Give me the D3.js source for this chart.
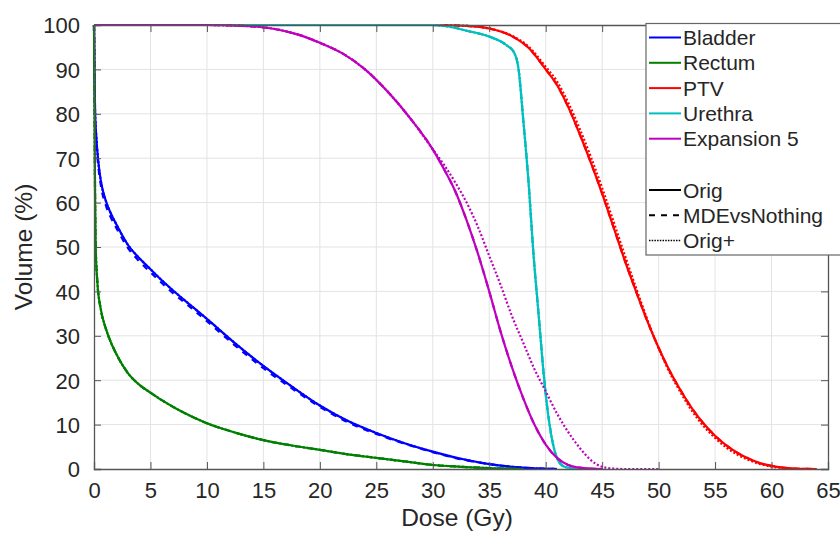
<!DOCTYPE html>
<html>
<head>
<meta charset="utf-8">
<script src="https://cdn.jsdelivr.net/npm/d3@7"></script>
<style>
  body { margin: 0; background: white; }
  svg { display: block; font-family: "Liberation Sans", Arial, sans-serif; }
</style>
</head>
<body>
<svg id="dvh"></svg>
<script>
// DVH curves, [dose (Gy), volume (%)]
var bladderOrig = [[0,100],[0.04,90],[0.1,80],[0.2,75],[0.35,70],[0.6,65],[1.1,60],[1.5,57.5],[2,55],[3,50.5],[4,47.5],[5,45],[6,42.5],[7,40.2],[8.5,37],[10,33.8],[12.5,28.3],[15,23.2],[17.5,18.6],[20,14.3],[22.5,10.8],[25,8.1],[27.5,5.8],[30,3.9],[32.5,2.3],[35,1.1],[37,0.5],[39,0.15],[41,0]];
var bladderMde  = [[0,100],[0.04,89],[0.1,79],[0.2,74],[0.35,69],[0.6,64],[1.1,59],[1.5,56.6],[2,54.2],[3,49.8],[4,46.8],[5,44.3],[6,41.9],[7,39.6],[8.5,36.5],[10,33.3],[12.5,27.8],[15,22.7],[17.5,18.2],[20,14],[22.5,10.5],[25,7.9],[27.5,5.7],[30,3.8],[32.5,2.2],[35,1.1],[37,0.5],[39,0.15],[41,0]];
var rectumOrig  = [[0,100],[0.03,90],[0.06,75],[0.1,60],[0.15,50],[0.3,42],[0.6,36],[1,32],[1.5,28.5],[2,25.8],[2.5,23.5],[3,21.6],[4,19],[5,17.2],[6,15.5],[7.5,13.3],[10,10.3],[12.5,8.2],[15,6.5],[17.5,5.3],[20,4.3],[22.5,3.3],[25,2.5],[27.5,1.7],[30,0.9],[32.5,0.5],[35,0.2],[38,0]];
var ptvOrig     = [[0,100],[30,100],[33,99.8],[35,99.2],[37,97.5],[38.5,94.8],[40,90],[41,86.5],[42,81.5],[43,75.5],[44,69],[45,62],[46,54.5],[47,47],[48,40],[49,33.3],[50,27.3],[51,22],[52,17.5],[53,13.5],[54,10.2],[55,7.5],[56,5.3],[57,3.6],[58,2.3],[59,1.3],[60,0.7],[61,0.3],[62,0.1],[64,0]];
var ptvPlus     = [[0,100],[30,100],[33,99.8],[35,99.2],[37,97.6],[38.5,95.1],[40,90.6],[41,87.3],[42,82.5],[43,76.7],[44,70.3],[45,63.3],[46,55.8],[47,48.2],[48,40.8],[49,33.7],[50,27.2],[51,21.6],[52,17],[53,12.9],[54,9.6],[55,7],[56,4.8],[57,3.2],[58,2],[59,1.1],[60,0.5],[61,0.2],[62,0.05],[64,0]];
var urethraOrig = [[0,100],[30,100],[31.5,99.6],[33,98.7],[35,97.4],[36.5,95.5],[37.2,93.8],[37.6,90],[38,79],[38.5,64],[38.9,49],[39.4,34],[39.8,22],[40.2,12.6],[40.7,5],[41.2,1.5],[41.8,0.4],[43,0]];
var expOrig     = [[0,100],[10,100],[12,99.9],[14,99.7],[16,99.1],[18,97.9],[20,96],[22,93.6],[24,90],[26,85],[28,79],[30,72],[31,67.5],[32,62.5],[33,56],[34,48.5],[35,40],[36,31],[37,23],[38,16],[39,10],[40,5.5],[41,2.5],[42,0.9],[43,0.3],[44,0.1],[45,0]];
var expPlus     = [[0,100],[10,100],[12,99.9],[14,99.7],[16,99.1],[18,97.9],[20,96],[22,93.6],[24,90],[26,85],[28,79],[30,72],[31,68.5],[32,64.5],[33,60],[34,54.5],[35,48],[36,41.5],[37,34.5],[38,28.5],[39,22.5],[40,17.5],[41,12.5],[42,8.3],[43,4.8],[44,2],[45,0.5],[46,0.1],[47,0],[50,0]];

var structNames  = ["Bladder","Rectum","PTV","Urethra","Expansion 5"];
var structColors = ["#0000ff","#008000","#ff0000","#00bfbf","#bf00bf"];
var styleNames   = ["Orig","MDEvsNothing","Orig+"];
var xTicks = d3.range(0, 66, 5);
var yTicks = d3.range(0, 101, 10);

// which curve goes with which structure / line style
var curves = [
  {data: bladderOrig, s: 0, style: 0}, {data: bladderMde, s: 0, style: 1}, {data: bladderOrig, s: 0, style: 2},
  {data: rectumOrig, s: 1, style: 0}, {data: rectumOrig, s: 1, style: 1}, {data: rectumOrig, s: 1, style: 2},
  {data: ptvOrig, s: 2, style: 0}, {data: ptvOrig, s: 2, style: 1}, {data: ptvPlus, s: 2, style: 2},
  {data: urethraOrig, s: 3, style: 0}, {data: urethraOrig, s: 3, style: 1}, {data: urethraOrig, s: 3, style: 2},
  {data: expOrig, s: 4, style: 0}, {data: expOrig, s: 4, style: 1}, {data: expPlus, s: 4, style: 2}
];
var dashes = [null, "6,6", "2,2"];

var screen = {width: 840, height: 534};
var margins = {top: 25, left: 94, right: 12, bottom: 65};
var graph = {width: 828 - 94, height: 469 - 25};
var textColor = "#262626";

var svg = d3.select("svg#dvh")
    .attr("width", screen.width)
    .attr("height", screen.height);

var xScale = d3.scaleLinear().domain([0, 65]).range([0, graph.width]);
var yScale = d3.scaleLinear().domain([0, 100]).range([graph.height, 0]);

var g = svg.append("g")
    .attr("transform", "translate(" + margins.left + "," + margins.top + ")");

// grid
g.append("g").selectAll("line").data(xTicks.slice(1, -1)).enter().append("line")
    .attr("x1", xScale).attr("x2", xScale).attr("y1", 0).attr("y2", graph.height)
    .attr("stroke", "#e3e3e3").attr("stroke-width", 1);
g.append("g").selectAll("line").data(yTicks.slice(1, -1)).enter().append("line")
    .attr("y1", yScale).attr("y2", yScale).attr("x1", 0).attr("x2", graph.width)
    .attr("stroke", "#e3e3e3").attr("stroke-width", 1);

// curves
svg.append("defs").append("clipPath").attr("id", "clip")
    .append("rect").attr("x", -2).attr("y", -2).attr("width", graph.width + 4).attr("height", graph.height + 4);

var lineGenerator = d3.line()
    .x(function(d) { return xScale(d[0]); })
    .y(function(d) { return yScale(d[1]); })
    .curve(d3.curveMonotoneX);

g.append("g").attr("clip-path", "url(#clip)")
    .selectAll("path").data(curves).enter().append("path")
    .attr("d", function(c) { return lineGenerator(c.data); })
    .attr("fill", "none")
    .attr("stroke", function(c) { return structColors[c.s]; })
    .attr("stroke-width", 2.2)
    .attr("stroke-dasharray", function(c) { return dashes[c.style]; });

// axes box with inward ticks
var axisColor = "#555";
var xAxis = d3.axisBottom(xScale).tickValues(xTicks).tickSize(-7).tickPadding(13);
var yAxis = d3.axisLeft(yScale).tickValues(yTicks).tickSize(-7).tickPadding(14);

var xa = g.append("g").attr("transform", "translate(0," + graph.height + ")").call(xAxis);
var ya = g.append("g").call(yAxis);
g.append("g").call(d3.axisTop(xScale).tickValues(xTicks).tickSize(-7).tickFormat(""));
g.append("g").attr("transform", "translate(" + graph.width + ",0)")
    .call(d3.axisRight(yScale).tickValues(yTicks).tickSize(-7).tickFormat(""));

g.selectAll(".domain").attr("stroke", axisColor).attr("stroke-width", 1.3);
g.selectAll(".tick line").attr("stroke", axisColor);
g.selectAll(".tick text").attr("fill", textColor).style("font-size", "22px")
    .style("font-family", "'Liberation Sans', Arial, sans-serif");
xa.selectAll(".tick text").attr("dy", "0.72em");
ya.selectAll(".tick text").attr("dy", "0.36em");

// axis labels
svg.append("text")
    .text("Dose (Gy)")
    .attr("text-anchor", "middle")
    .attr("x", margins.left + graph.width / 2 - 4)
    .attr("y", 526)
    .attr("fill", textColor)
    .style("font-size", "24.5px");

svg.append("g")
    .attr("transform", "translate(32," + (margins.top + graph.height / 2) + ")")
    .append("text")
    .text("Volume (%)")
    .attr("text-anchor", "middle")
    .attr("transform", "rotate(-90)")
    .attr("fill", textColor)
    .style("font-size", "24.5px");

// legend
var legend = svg.append("g").attr("transform", "translate(646,23.5)");
legend.append("rect")
    .attr("x", 0).attr("y", 0).attr("width", 220).attr("height", 231.5)
    .attr("fill", "white").attr("stroke", "#666").attr("stroke-width", 1.2);

var rows = structNames.map(function(n, i) { return {label: n, color: structColors[i], dash: null, y: 14 + i * 25.3}; })
    .concat(styleNames.map(function(n, i) { return {label: n, color: "#000", dash: [null, "6,6", "1.5,1.2"][i], y: 166.5 + i * 25.3}; }));

var item = legend.selectAll("g.item").data(rows).enter().append("g")
    .attr("transform", function(d) { return "translate(0," + d.y + ")"; });
item.append("line")
    .attr("x1", 3).attr("x2", 35).attr("y1", 0).attr("y2", 0)
    .attr("stroke", function(d) { return d.color; })
    .attr("stroke-width", function(d) { return d.dash === "1.5,1.2" ? 1.5 : 2; })
    .attr("stroke-dasharray", function(d) { return d.dash; });
item.append("text")
    .text(function(d) { return d.label; })
    .attr("x", 37).attr("dy", "0.36em")
    .attr("fill", textColor)
    .style("font-size", "21px");
</script>
</body>
</html>
